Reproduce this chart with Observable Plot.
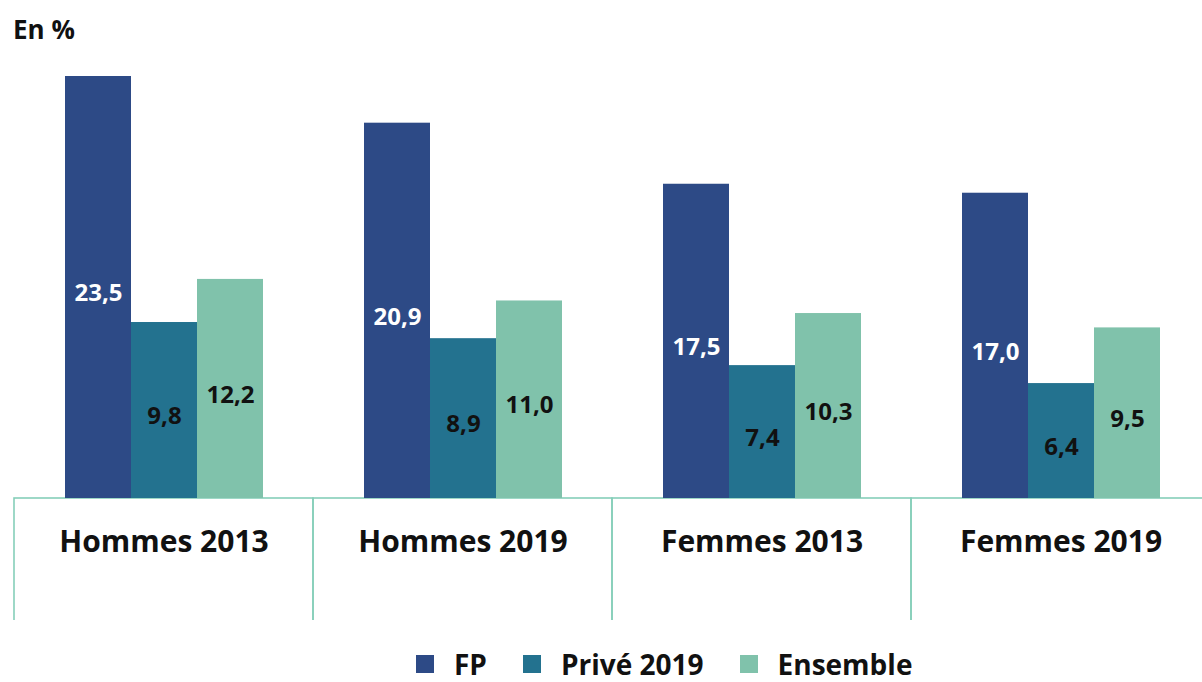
<!DOCTYPE html>
<html><head><meta charset="utf-8">
<script src="https://cdn.jsdelivr.net/npm/d3@7"></script>
<script src="https://cdn.jsdelivr.net/npm/@observablehq/plot@0.6"></script>
<style>
html,body{margin:0;padding:0;background:#fff;overflow:hidden;}
body{width:1202px;height:682px;font-family:"Open Sans",sans-serif;color:#111;position:relative;}
#title{height:58px;line-height:58px;padding-left:13px;font-size:26px;font-weight:700;color:#111;}
#chart{width:1202px;overflow:hidden;}
#chart svg{display:block;overflow:hidden;max-width:none !important;}
#legend{position:absolute;top:649px;left:416px;}
.lg-swatches{font-size:28px !important;font-weight:700 !important;color:#111 !important;font-family:"Open Sans",sans-serif !important;min-height:0 !important;line-height:30px !important;height:30px;}
.lg-swatch{margin-right:36px !important;line-height:30px !important;}
.lg-swatch svg{margin-right:20px !important;}
</style></head><body>
<div id="title">En %</div>
<div id="chart"></div>
<div id="legend"></div>
<script>
const groups = ["Hommes 2013", "Hommes 2019", "Femmes 2013", "Femmes 2019"];
const series = ["FP", "Privé 2019", "Ensemble"];
const fp = [23.5, 20.9, 17.5, 17.0];
const prive = [9.8, 8.9, 7.4, 6.4];
const ensemble = [12.2, 11.0, 10.3, 9.5];
const colors = ["#2d4a86", "#23728f", "#80c2ab"];
const lineColor = "#86cfba";

const data = groups.flatMap((g, i) =>
  [fp[i], prive[i], ensemble[i]].map((v, j) => ({group: g, series: series[j], value: v}))
);
const fmt = v => v.toFixed(1).replace(".", ",");

const plot = Plot.plot({
  width: 1210, height: 562,
  marginTop: 18, marginBottom: 122, marginLeft: 14, marginRight: 0,
  style: {fontFamily: "Open Sans", color: "#111", background: "#fff"},
  fx: {domain: groups, padding: 0, label: null},
  x: {domain: series, paddingInner: 0, paddingOuter: 0.765, axis: null},
  y: {domain: [0, 23.5], axis: null},
  color: {domain: series, range: colors},
  marks: [
    Plot.rect([0], {y1: 0, y2: -10, fill: "none", stroke: lineColor, strokeWidth: 1.6}),
    Plot.barY(data, {fx: "group", x: "series", y: "value", fill: "series"}),
    Plot.text(data.filter(d => d.series === "FP"), {
      fx: "group", x: "series", y: d => d.value / 2, text: d => fmt(d.value),
      fill: "white", fontSize: 24, fontWeight: "bold", dy: 6
    }),
    Plot.text(data.filter(d => d.series !== "FP"), {
      fx: "group", x: "series", y: d => d.value / 2, text: d => fmt(d.value),
      fill: "#111", fontSize: 24, fontWeight: "bold", dy: 6
    }),
    Plot.axisFx({anchor: "bottom", tickSize: 0, tickPadding: 32, fontSize: 30, fontWeight: "bold", label: null, fill: "#111"})
  ]
});
document.getElementById("chart").appendChild(plot);

const legend = Plot.legend({
  color: {domain: series, range: colors},
  legend: "swatches", swatchSize: 18, className: "lg"
});
document.getElementById("legend").appendChild(legend);
</script>
</body></html>
